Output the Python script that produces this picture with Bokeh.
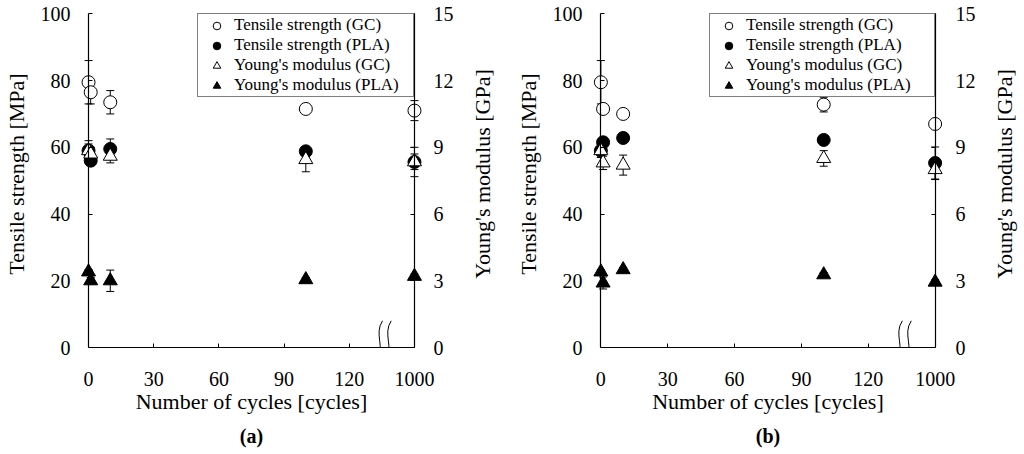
from bokeh.plotting import figure
from bokeh.models import Range1d, LinearAxis, FixedTicker, Legend, LegendItem, Title
from bokeh.layouts import row
from bokeh.embed import file_html
from bokeh.resources import INLINE

# ---------------- data ----------------
cycles = [0, 1, 10, 100, 1000]
x_ticks = [0, 30, 60, 90, 120, 150]
x_tick_labels = ["0", "30", "60", "90", "120", "1000"]
y_ticks_mpa = [0, 20, 40, 60, 80, 100]
y_ticks_gpa = [0, 3, 6, 9, 12, 15]
legend_labels = ["Tensile strength (GC)", "Tensile strength (PLA)",
                 "Young's modulus (GC)", "Young's modulus (PLA)"]

# panel (a)
ts_gc_a = [79.5, 76.5, 73.5, 71.5, 71.0]
ts_gc_a_err = [6.5, 3.5, 3.5, 1.0, 3.0]
ts_pla_a = [59.0, 56.0, 59.5, 58.8, 55.6]
ts_pla_a_err = [2.0, 1.0, 3.0, 1.0, 4.4]
ym_gc_a = [8.85, 8.7, 8.6, 8.45, 8.35]
ym_gc_a_err = [0.45, 0.3, 0.3, 0.55, 0.35]
ym_pla_a = [3.4, 3.0, 3.0, 3.05, 3.2]
ym_pla_a_err = [0.1, 0.15, 0.48, 0.1, 0.1]

# panel (b)
ts_gc_b = [79.5, 71.5, 70.0, 72.8, 67.0]
ts_gc_b_err = [6.5, 1.0, 1.0, 2.2, 1.0]
ts_pla_b = [59.0, 61.5, 62.8, 62.2, 55.3]
ts_pla_b_err = [2.0, 1.5, 1.0, 1.0, 4.8]
ym_gc_b = [8.85, 8.3, 8.2, 8.5, 8.0]
ym_gc_b_err = [0.3, 0.3, 0.45, 0.35, 0.45]
ym_pla_b = [3.4, 2.9, 3.5, 3.27, 2.94]
ym_pla_b_err = [0.1, 0.27, 0.1, 0.1, 0.1]

# ---------------- styling / layout ----------------
FONT = "Liberation Serif"
FIG_H = 454
TOP, BOTTOM = 0, 107
LBL_BOTTOM = 97
X_LO, X_HI = -6, 156
MPA_MAX, GPA_MAX = 100, 15
PAD_FRAC = 0.04           # extra room above the axis tops (frame padding)
AXIS_END = 150            # axis position used for the 1000-cycle point
BREAKS = [134, 138]       # positions of the axis-break marks
LEG_MARGIN = 13


def xpos(c):
    return c if c <= 120 else AXIS_END


def base_style(ax):
    ax.axis_line_color = "black"
    ax.axis_line_width = 1.2
    ax.major_tick_line_color = "black"
    ax.major_tick_in = 4
    ax.major_tick_out = 0
    ax.minor_tick_line_color = None
    ax.major_label_text_font = FONT
    ax.major_label_text_font_size = "20px"
    ax.major_label_text_color = "black"
    ax.axis_label_text_font = FONT
    ax.axis_label_text_font_size = "22px"
    ax.axis_label_text_font_style = "normal"
    ax.axis_label_text_color = "black"


def make_panel(caption, ts_gc, ts_gc_err, ts_pla, ts_pla_err,
               ym_gc, ym_gc_err, ym_pla, ym_pla_err,
               width, bl, br, tick_l, lab_l, tick_r, leg_lw):
    p = figure(width=width, height=FIG_H, x_range=Range1d(X_LO, X_HI),
               y_range=Range1d(0, MPA_MAX * (1 + PAD_FRAC)),
               x_axis_type=None, y_axis_type=None,
               output_backend="svg", toolbar_location=None,
               min_border_left=bl, min_border_right=br,
               min_border_top=TOP, min_border_bottom=BOTTOM)
    p.extra_y_ranges = {"gpa": Range1d(0, GPA_MAX * (1 + PAD_FRAC))}
    p.outline_line_color = None
    p.background_fill_color = "white"
    p.border_fill_color = "white"

    # bottom axis
    xa = LinearAxis(ticker=FixedTicker(ticks=x_ticks),
                    major_label_overrides={t: l for t, l in zip(x_ticks, x_tick_labels)},
                    bounds=(0, AXIS_END), axis_label="Number of cycles [cycles]")
    base_style(xa)
    xa.major_label_standoff = 24
    xa.axis_label_standoff = 0
    p.add_layout(xa, "below")

    # axis lines + ticks at x = 0 and x = AXIS_END
    ya_line = LinearAxis(ticker=FixedTicker(ticks=y_ticks_mpa), fixed_location=0,
                         bounds=(0, MPA_MAX),
                         major_label_overrides={t: "" for t in y_ticks_mpa})
    base_style(ya_line)
    p.add_layout(ya_line, "left")
    yb_line = LinearAxis(ticker=FixedTicker(ticks=y_ticks_gpa), fixed_location=AXIS_END,
                         y_range_name="gpa", bounds=(0, GPA_MAX),
                         major_label_overrides={t: "" for t in y_ticks_gpa})
    base_style(yb_line)
    p.add_layout(yb_line, "right")

    # labelled side axes (no line / ticks)
    ya = LinearAxis(ticker=FixedTicker(ticks=y_ticks_mpa), axis_label="Tensile strength [MPa]")
    base_style(ya)
    ya.axis_line_color = None
    ya.major_tick_line_color = None
    ya.major_tick_in = 0
    ya.major_label_standoff = tick_l
    ya.axis_label_standoff = lab_l
    p.add_layout(ya, "left")

    yb = LinearAxis(ticker=FixedTicker(ticks=y_ticks_gpa), y_range_name="gpa")
    base_style(yb)
    yb.axis_line_color = None
    yb.major_tick_line_color = None
    yb.major_tick_in = 0
    yb.major_label_standoff = tick_r
    p.add_layout(yb, "right")

    xs = [xpos(c) for c in cycles]

    # error bars
    for vals, errs, rng in ((ts_gc, ts_gc_err, "default"), (ts_pla, ts_pla_err, "default"),
                            (ym_gc, ym_gc_err, "gpa"), (ym_pla, ym_pla_err, "gpa")):
        lo = [v - e for v, e in zip(vals, errs)]
        hi = [v + e for v, e in zip(vals, errs)]
        p.segment(x0=xs, y0=lo, x1=xs, y1=hi, line_color="black", line_width=1,
                  y_range_name=rng)
        p.scatter(x=xs + xs, y=lo + hi, marker="dash", size=8, line_color="black",
                  line_width=1, y_range_name=rng)

    # axis break marks
    for b in BREAKS:
        p.bezier(x0=[b + 1.3], y0=[8], x1=[b - 1.3], y1=[-4],
                 cx0=[b - 2.8], cy0=[4], cx1=[b + 2.8], cy1=[0],
                 line_color="black", line_width=1)

    r1 = p.scatter(xs, ts_gc, marker="circle", size=13, fill_color="white",
                   line_color="black", line_width=1)
    r2 = p.scatter(xs, ts_pla, marker="circle", size=13, fill_color="black",
                   line_color="black", line_width=1)
    r3 = p.scatter(xs, ym_gc, marker="triangle", size=14, fill_color="white",
                   line_color="black", line_width=1, y_range_name="gpa")
    r4 = p.scatter(xs, ym_pla, marker="triangle", size=14, fill_color="black",
                   line_color="black", line_width=1, y_range_name="gpa")

    legend = Legend(items=[LegendItem(label=l, renderers=[r])
                           for l, r in zip(legend_labels, [r1, r2, r3, r4])],
                    location="top_right", margin=LEG_MARGIN, padding=1, spacing=0,
                    glyph_width=35, glyph_height=19, label_height=19,
                    label_width=leg_lw, label_standoff=0,
                    label_text_font=FONT, label_text_font_size="17px",
                    label_text_color="black", border_line_color="black",
                    border_line_width=1, background_fill_color="white",
                    background_fill_alpha=1.0)
    p.add_layout(legend, "center")

    t = Title(text=caption, align="center", text_font=FONT, text_font_size="20px",
              text_font_style="bold", text_color="black", standoff=12)
    p.add_layout(t, "below")
    return p


def label_strip(text, width, bl):
    """Narrow strip carrying the secondary-axis title, reading upwards."""
    f = figure(width=width, height=FIG_H, x_range=Range1d(0, 1), y_range=Range1d(0, 1),
               x_axis_type=None, y_axis_type=None, output_backend="svg",
               toolbar_location=None, min_border_left=bl, min_border_right=0,
               min_border_top=TOP, min_border_bottom=LBL_BOTTOM)
    f.outline_line_color = None
    f.background_fill_color = "white"
    f.border_fill_color = "white"
    ax = LinearAxis(ticker=FixedTicker(ticks=[]), axis_label=text)
    base_style(ax)
    ax.axis_line_color = None
    ax.major_tick_line_color = None
    ax.major_tick_in = 0
    ax.major_label_standoff = 0
    ax.axis_label_standoff = 0
    f.add_layout(ax, "left")
    return f


pa = make_panel("(a)", ts_gc_a, ts_gc_a_err, ts_pla_a, ts_pla_a_err,
                ym_gc_a, ym_gc_a_err, ym_pla_a, ym_pla_a_err,
                width=466, bl=70, br=39, tick_l=5, lab_l=9, tick_r=6, leg_lw=178)
la = label_strip("Young's modulus [GPa]", width=46, bl=27)
pb = make_panel("(b)", ts_gc_b, ts_gc_b_err, ts_pla_b, ts_pla_b_err,
                ym_gc_b, ym_gc_b_err, ym_pla_b, ym_pla_b_err,
                width=476, bl=67, br=40, tick_l=5, lab_l=9, tick_r=7, leg_lw=187)
lb = label_strip("Young's modulus [GPa]", width=36, bl=25)

layout = row(pa, la, pb, lb)
open("out.html", "w").write(file_html(layout, INLINE))
